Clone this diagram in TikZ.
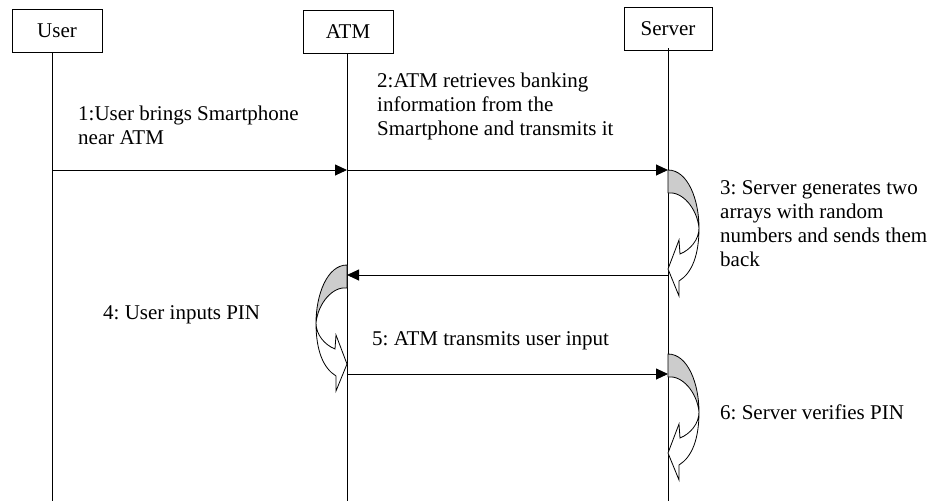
\documentclass[tikz,border=0pt]{standalone}
\usepackage{fontspec}
\setmainfont{Liberation Serif}
\usetikzlibrary{arrows.meta}
\frenchspacing

\begin{document}
\begin{tikzpicture}[x=1pt, y=-1pt,
  every node/.style={font=\fontsize{21}{24}\selectfont},
  actor/.style={draw, line width=0.9pt, minimum height=43pt, inner sep=0pt},
  lifeline/.style={line width=1pt},
  msg/.style={line width=0.9pt, -{Triangle[length=12pt, width=11pt]}},
  % base anchor of a multi-line label sits on its last line
  label/.style={anchor=base west, align=left, inner sep=0pt},
  selfcall/.pic={
    % shaded back face of the curved arrow
    \filldraw[fill=black!20, line width=0.8pt, line join=round]
      (0,0) .. controls (20,0) and (31,30) .. (31,58)
            .. controls (29,38) and (14,21) .. (0,23) -- cycle;
    % front face ending in the arrow head at the lifeline
    \filldraw[fill=white, line width=0.8pt, line join=miter]
      (31,58) .. controls (31,70) and (22,80) .. (12,84)
      -- (11,70) -- (0,99) -- (11,126) -- (11,111)
      .. controls (24,103) and (31,85) .. (31,58) -- cycle;
  }
]
\useasboundingbox (0,0) rectangle (929,501);

% participants
\node[actor, minimum width=90pt] (user)   at (57,30.5) {User};
\node[actor, minimum width=90pt] (atm)    at (348,32)  {ATM};
\node[actor, minimum width=88pt] (server) at (668,29)  {Server};

% lifeline end points
\coordinate (userTop) at (52,52);   \coordinate (userEnd) at (52,501);
\coordinate (atmTop)  at (347,53);  \coordinate (atmEnd)  at (347,501);
\coordinate (srvTop)  at (668,48);  \coordinate (srvEnd)  at (668,501);

\draw[lifeline] (userTop) -- (userEnd);
\draw[lifeline] (atmTop) -- (atmEnd);
\draw[lifeline] (srvTop) -- (srvEnd);

% message anchors on the lifelines
\coordinate (u1) at (52,170);
\coordinate (a1) at (347,170);
\coordinate (s1) at (668,170);
\coordinate (s3) at (668,275);
\coordinate (a3) at (347,275);
\coordinate (a5) at (347,374);
\coordinate (s5) at (668,374);

% self activity arrows
\pic at (668,170) {selfcall};
\pic[xscale=-1] at (347,265) {selfcall};
\pic at (668,354) {selfcall};

% messages
\draw[msg] (u1) -- (a1);
\draw[msg] (a1) -- (s1);
\draw[msg] (s3) -- (a3);
\draw[msg] (a5) -- (s5);

% labels
\node[label] (l1) at (78,144) {1:User brings Smartphone\\near ATM};
\node[label] (l2) at (377,135) {2:ATM retrieves banking\\information from the\\Smartphone and transmits it};
\node[label] (l3) at (720,266) {3: Server generates two\\arrays with random\\numbers and sends them\\back};
\node[label] (l4) at (103,319) {4: User inputs PIN};
\node[label] (l5) at (372,345) {5: ATM transmits user input};
\node[label] (l6) at (720,419) {6: Server verifies PIN};
\end{tikzpicture}
\end{document}
